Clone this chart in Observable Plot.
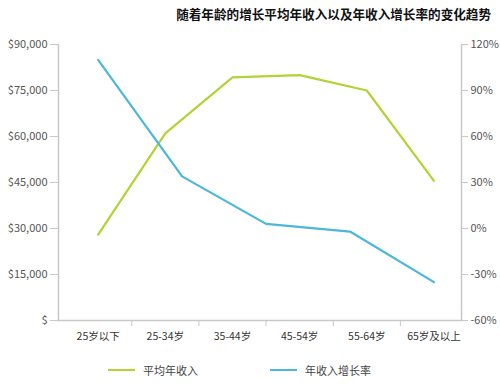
<!DOCTYPE html>
<html>
<head>
<meta charset="utf-8">
<script src="https://cdn.jsdelivr.net/npm/d3@7"></script>
<script src="https://cdn.jsdelivr.net/npm/@observablehq/plot@0.6"></script>
<style>
  html, body { margin: 0; padding: 0; background: #fff; }
  body { width: 500px; height: 387px; overflow: hidden; font-family: "Noto Sans CJK SC", "Noto Sans", sans-serif; }
  #title { height: 30px; line-height: 28px; text-align: right; padding-right: 9px; font-size: 12.6px; font-weight: bold; color: #111; }
  #legend { height: 35px; position: relative; font-size: 11px; color: #444; }
  .item { position: absolute; top: 10px; display: flex; align-items: center; gap: 8px; }
  .sw { width: 27px; height: 2px; display: inline-block; }
</style>
</head>
<body>
<div id="title">随着年龄的增长平均年收入以及年收入增长率的变化趋势</div>
<div id="chart"></div>
<div id="legend"></div>
<script>
// ---- data ----
const ageGroups = ["25岁以下", "25-34岁", "35-44岁", "45-54岁", "55-64岁", "65岁及以上"];
const avgIncome = [28000, 61000, 79300, 80000, 75000, 45500];
const growthRate = [110, 34, 3, -2, -35]; // percent, 5 points spread across the groups
const incomeTicks = [0, 15000, 30000, 45000, 60000, 75000, 90000];
const rateTicks = [-60, -30, 0, 30, 60, 90, 120];
const seriesNames = ["平均年收入", "年收入增长率"];
const colors = ["#b3d236", "#4bb7dc"];

// ---- helpers ----
const n = ageGroups.length;
const rateMin = -60, rateMax = 120, incMax = 90000;
const rateToInc = r => (r - rateMin) / (rateMax - rateMin) * incMax;

const incomeData = avgIncome.map((v, i) => ({x: i, y: v}));
const growthData = growthRate.map((v, i) => ({x: i * (n - 1) / (growthRate.length - 1), y: rateToInc(v)}));
const boundaries = d3.range(1, n).map(i => i - 0.5);

const axisColor = "#c8c8c8";
const textColor = "#555";

const chart = Plot.plot({
  width: 500,
  height: 322,
  marginTop: 14,
  marginBottom: 32,
  marginLeft: 58,
  marginRight: 39,
  style: {fontFamily: "'Noto Sans CJK SC', 'Noto Sans', sans-serif", fontSize: "11px", color: textColor, background: "#fff"},
  x: {domain: [-0.59, n - 0.59], axis: null},
  y: {domain: [0, incMax], axis: null},
  marks: [
    Plot.frame({anchor: "left", stroke: axisColor, strokeWidth: 1.5}),
    Plot.frame({anchor: "right", stroke: axisColor, strokeWidth: 1.5}),
    Plot.frame({anchor: "bottom", stroke: axisColor, strokeWidth: 1.5}),
    Plot.axisY(incomeTicks, {
      anchor: "left", label: null, tickSize: 8, tickPadding: 3, stroke: axisColor,
      tickFormat: d => d === 0 ? "$" : "$" + d3.format(",")(d),
      fill: textColor, fontSize: 11
    }),
    Plot.axisY(rateTicks.map(rateToInc), {
      anchor: "right", label: null, tickSize: 6, tickPadding: 3, stroke: axisColor,
      tickFormat: (d, i) => rateTicks[i] + "%",
      fill: textColor, fontSize: 11
    }),
    Plot.axisX(boundaries, {anchor: "bottom", label: null, tickSize: 6, stroke: axisColor, tickFormat: () => ""}),
    Plot.axisX(d3.range(n), {
      anchor: "bottom", label: null, tickSize: 0, tickPadding: 12,
      tickFormat: (d, i) => ageGroups[i], fill: "#333", fontSize: 10.5
    }),
    Plot.line(incomeData, {x: "x", y: "y", stroke: colors[0], strokeWidth: 2.2}),
    Plot.line(growthData, {x: "x", y: "y", stroke: colors[1], strokeWidth: 2.2})
  ]
});
document.getElementById("chart").appendChild(chart);

// legend
const legend = document.getElementById("legend");
const legendLeft = [108, 270];
seriesNames.forEach((name, i) => {
  const item = document.createElement("div");
  item.className = "item";
  item.style.left = legendLeft[i] + "px";
  item.innerHTML = `<span class="sw" style="background:${colors[i]}"></span><span>${name}</span>`;
  legend.appendChild(item);
});
</script>
</body>
</html>
